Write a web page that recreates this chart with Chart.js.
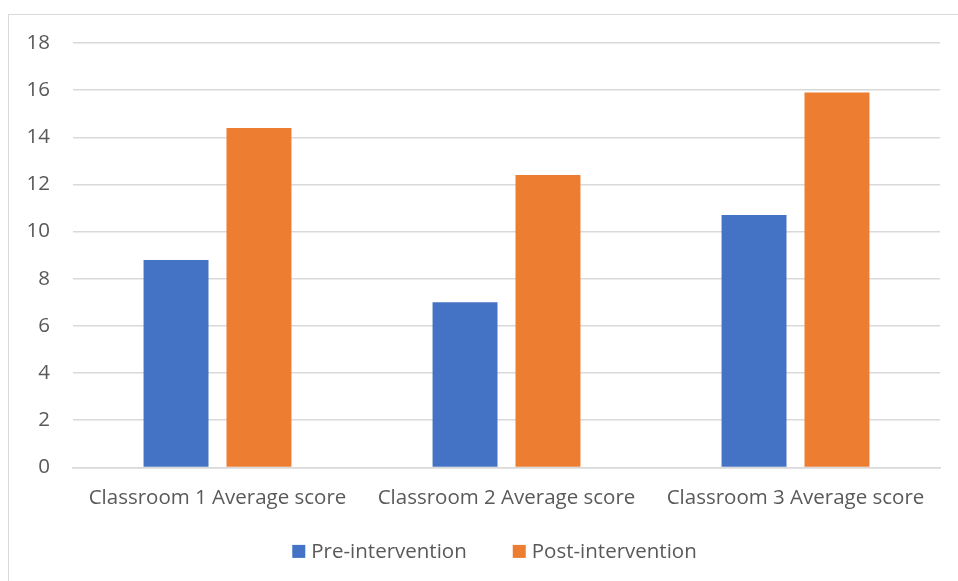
<!DOCTYPE html>
<html>
<head>
<meta charset="utf-8">
<script src="https://cdn.jsdelivr.net/npm/chart.js@4.4.1/dist/chart.umd.min.js"></script>
<style>
  html, body { margin: 0; padding: 0; background: #fff; }
  #frame {
    position: absolute; left: 8px; top: 14px; width: 960px; height: 580px;
    border-left: 1px solid #d9d9d9; border-top: 1px solid #d9d9d9;
  }
  #wrap { position: absolute; left: 0; top: 0; width: 958px; height: 581px; }
</style>
</head>
<body>
<div id="frame"></div>
<div id="wrap"><canvas id="chart" width="958" height="581"></canvas></div>
<script>
const categories = ['Classroom 1 Average score', 'Classroom 2 Average score', 'Classroom 3 Average score'];
const preIntervention = [8.8, 7.0, 10.7];
const postIntervention = [14.4, 12.4, 15.9];
const seriesNames = ['Pre-intervention', 'Post-intervention'];
const seriesColors = ['#4472C4', '#ED7D31'];

const FONT = "'Open Sans', sans-serif";
const TEXT = '#595959';

// Bottom legend: square swatch + series name, items spaced apart, centred row.
const bottomLegend = {
  id: 'bottomLegend',
  afterDraw(chart) {
    const ctx = chart.ctx;
    const box = 13, gapText = 6, gapItem = 46;
    ctx.save();
    ctx.font = '20.5px ' + FONT;
    ctx.textBaseline = 'middle';
    const items = chart.data.datasets.map(ds => ({
      label: ds.label, color: ds.backgroundColor, w: ctx.measureText(ds.label).width
    }));
    const total = items.reduce((s, it) => s + box + gapText + it.w, 0) + gapItem * (items.length - 1);
    let x = (chart.chartArea.left + chart.chartArea.right) / 2 - total / 2 - 12;
    const y = chart.chartArea.bottom + 84;
    items.forEach(it => {
      ctx.fillStyle = it.color;
      ctx.fillRect(x, y - box / 2, box, box);
      x += box + gapText;
      ctx.fillStyle = TEXT;
      ctx.fillText(it.label, x, y + 1);
      x += it.w + gapItem;
    });
    ctx.restore();
  }
};

new Chart(document.getElementById('chart'), {
  type: 'bar',
  data: {
    labels: categories,
    datasets: [
      { label: seriesNames[0], data: preIntervention, backgroundColor: seriesColors[0] },
      { label: seriesNames[1], data: postIntervention, backgroundColor: seriesColors[1] }
    ]
  },
  options: {
    responsive: false,
    animation: false,
    devicePixelRatio: 1,
    categoryPercentage: 0.574,
    barPercentage: 0.783,
    layout: { padding: { left: 0, right: 18, top: 43, bottom: 53 } },
    plugins: {
      tooltip: { enabled: false },
      legend: { display: false }
    },
    scales: {
      x: {
        grid: { display: false, drawTicks: false },
        border: { display: true, color: '#d9d9d9', width: 1.5 },
        ticks: { font: { family: FONT, size: 20.5 }, color: TEXT, padding: 18, maxRotation: 0 }
      },
      y: {
        min: 0, max: 18,
        afterFit(axis) { axis.width = 73; },
        grid: { color: '#d9d9d9', lineWidth: 1.5, drawTicks: false },
        border: { display: false },
        ticks: { stepSize: 2, font: { family: FONT, size: 20.5 }, color: TEXT, padding: 23 }
      }
    }
  },
  plugins: [bottomLegend]
});
</script>
</body>
</html>
